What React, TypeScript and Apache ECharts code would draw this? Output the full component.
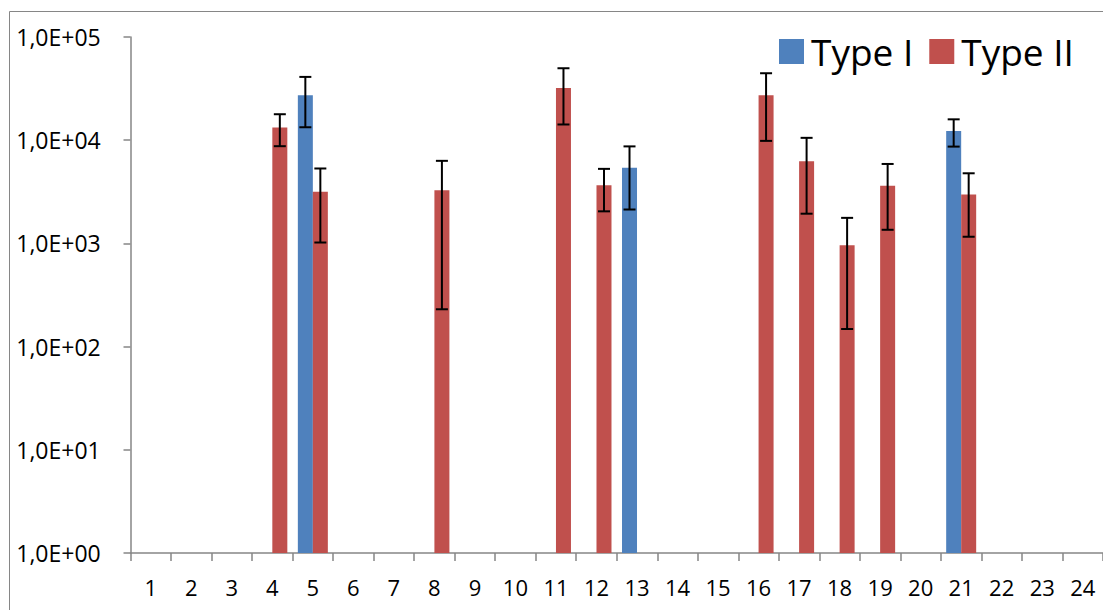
import React, { useEffect, useRef } from "react";
import * as echarts from "echarts";

const categories = Array.from({ length: 24 }, (_, i) => String(i + 1));
const typeI: (number | null)[] = [null, null, null, null, 27200, null, null, null, null, null, null, null, 5420, null, null, null, null, null, null, null, 12300, null, null, null];
const typeIErr: (number | null)[] = [null, null, null, null, 13850, null, null, null, null, null, null, null, 3290, null, null, null, null, null, null, null, 3630, null, null, null];
const typeII: (number | null)[] = [null, null, null, 13300, 3170, null, null, 3270, null, null, 32000, 3660, null, null, null, 27200, 6240, 958, 3620, null, 2970, null, null, null];
const typeIIErr: (number | null)[] = [null, null, null, 4550, 2150, null, null, 3040, null, null, 17800, 1615, null, null, null, 17350, 4300, 810, 2265, null, 1810, null, null, null];

const BLUE = "#4F81BD";
const RED = "#C0504D";
const GRAY = "#868686";
const FONT = "Open Sans";
const BAR_W = 15;

function errData(vals: (number | null)[], errs: (number | null)[]) {
  const out: number[][] = [];
  vals.forEach((v, i) => {
    const e = errs[i];
    if (v != null && e != null) out.push([i, v, e]);
  });
  return out;
}

function makeErrRender(offset: number) {
  return (params: any, api: any) => {
    const x = api.value(0);
    const v = api.value(1);
    const e = api.value(2);
    const hi = api.coord([x, v + e]);
    const lo = api.coord([x, v - e]);
    const cx = hi[0] + offset;
    const cap = 6;
    const style = { stroke: "#000", lineWidth: 2 };
    return {
      type: "group",
      children: [
        { type: "line", shape: { x1: cx, y1: hi[1], x2: cx, y2: lo[1] }, style },
        { type: "line", shape: { x1: cx - cap, y1: hi[1], x2: cx + cap, y2: hi[1] }, style },
        { type: "line", shape: { x1: cx - cap, y1: lo[1], x2: cx + cap, y2: lo[1] }, style },
      ],
    };
  };
}

function fmt(v: number) {
  const e = Math.round(Math.log10(v));
  const m = v / Math.pow(10, e);
  const sign = e < 0 ? "-" : "+";
  return m.toFixed(1).replace(".", ",") + "E" + sign + String(Math.abs(e)).padStart(2, "0");
}

export default function App() {
  const ref = useRef<HTMLDivElement>(null);
  useEffect(() => {
    if (!ref.current) return;
    const chart = echarts.init(ref.current, null, { renderer: "svg" });
    chart.setOption({
      animation: false,
      backgroundColor: "#fff",
      textStyle: { fontFamily: FONT },
      graphic: [
        {
          type: "rect",
          shape: { x: 9.5, y: 11.5, width: 1200, height: 700 },
          style: { fill: "none", stroke: GRAY, lineWidth: 1 },
          silent: true,
          z: -1,
        },
      ],
      legend: {
        data: ["Type I", "Type II"],
        left: 779,
        top: 33,
        padding: 0,
        itemWidth: 25,
        itemHeight: 25,
        itemGap: 16,
        icon: "rect",
        textStyle: { fontFamily: FONT, fontSize: 37, color: "#000", padding: [0, 0, 0, 2] },
      },
      grid: { left: 130.5, right: -5, top: 37, bottom: 57, containLabel: false },
      xAxis: {
        type: "category",
        data: categories,
        axisLine: { lineStyle: { color: GRAY, width: 1.5 } },
        axisTick: { show: true, length: 8, inside: false, lineStyle: { color: GRAY, width: 1.5 } },
        axisLabel: { color: "#000", fontFamily: FONT, fontSize: 22, margin: 23, interval: 0 },
        splitLine: { show: false },
      },
      yAxis: {
        type: "log",
        logBase: 10,
        min: 1,
        max: 100000,
        splitNumber: 5,
        axisLine: { show: true, lineStyle: { color: GRAY, width: 1.5 } },
        axisTick: { show: true, length: 7, lineStyle: { color: GRAY, width: 1.5 } },
        minorTick: { show: false },
        splitLine: { show: false },
        axisLabel: { color: "#000", fontFamily: FONT, fontSize: 23, margin: 72, align: "center", formatter: fmt },
      },
      series: [
        {
          name: "Type I",
          type: "bar",
          barWidth: BAR_W,
          barGap: "0%",
          itemStyle: { color: BLUE },
          data: typeI.map((v) => (v == null ? "-" : v)),
        },
        {
          name: "Type II",
          type: "bar",
          barWidth: BAR_W,
          barGap: "0%",
          itemStyle: { color: RED },
          data: typeII.map((v) => (v == null ? "-" : v)),
        },
        {
          name: "errI",
          type: "custom",
          renderItem: makeErrRender(-BAR_W / 2),
          data: errData(typeI, typeIErr),
          z: 10,
          silent: true,
        },
        {
          name: "errII",
          type: "custom",
          renderItem: makeErrRender(BAR_W / 2),
          data: errData(typeII, typeIIErr),
          z: 10,
          silent: true,
        },
      ],
    });
    return () => chart.dispose();
  }, []);
  return (
    <div
      ref={ref}
      style={{ position: "absolute", left: 0, top: 0, width: 1103, height: 610 }}
    />
  );
}
